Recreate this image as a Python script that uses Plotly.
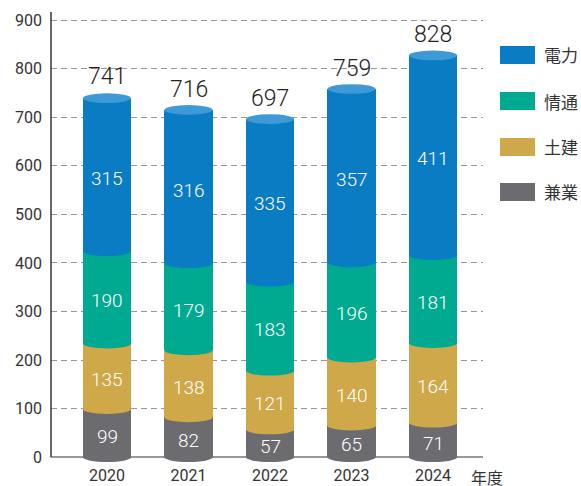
import plotly.graph_objects as go

years = ["2020", "2021", "2022", "2023", "2024"]
series_names = ["兼業", "土建", "情通", "電力"]
kengyo = [99, 82, 57, 65, 71]
doken = [135, 138, 121, 140, 164]
jotsu = [190, 179, 183, 196, 181]
denryoku = [315, 316, 335, 357, 411]
totals = [741, 716, 697, 759, 828]
y_ticks = [0, 100, 200, 300, 400, 500, 600, 700, 800, 900]

colors = {"兼業": "#6b6b70", "土建": "#cfa84a", "情通": "#00aa90", "電力": "#0a7cc4"}
cap_color = "#3d9ad6"
series = [kengyo, doken, jotsu, denryoku]

W, H = 581, 486
ml, mr, mt, mb = 51, 98, 12, 22
ymin, ymax = -14, 916.5
bw = 0.59
e = 10  # ellipse half-height in data units

fig = go.Figure()
xs = list(range(len(years)))
for name, vals in zip(series_names, series):
    fig.add_trace(go.Bar(x=xs, y=vals, name=name, width=bw,
                         marker=dict(color=colors[name], line=dict(width=0)),
                         showlegend=False, hoverinfo="skip"))

shapes = []
annotations = []
font_num = "Roboto, sans-serif"
for i in xs:
    base = 0
    for name, vals in zip(series_names, series):
        v = vals[i]
        shapes.append(dict(type="circle", xref="x", yref="y", x0=i - bw / 2, x1=i + bw / 2,
                           y0=base - e, y1=base + e, fillcolor=colors[name],
                           line=dict(width=0), layer="above"))
        annotations.append(dict(x=i, y=base + v / 2 - e * 0.7, xref="x", yref="y", text=str(v),
                                showarrow=False,
                                font=dict(color="white", size=19, family=font_num, weight=300)))
        base += v
    shapes.append(dict(type="circle", xref="x", yref="y", x0=i - bw / 2, x1=i + bw / 2,
                       y0=base - e, y1=base + e, fillcolor=cap_color,
                       line=dict(width=0), layer="above"))
    annotations.append(dict(x=i, y=totals[i] + e, xref="x", yref="y", text=str(totals[i]),
                            showarrow=False, yanchor="bottom", yshift=0,
                            font=dict(color="#222", size=23, family=font_num, weight=300)))

shapes.append(dict(type="line", xref="paper", yref="y", x0=0, x1=0, y0=0, y1=ymax,
                   line=dict(color="#333", width=1.5), layer="above"))

pw = W - ml - mr
ph = H - mt - mb
def px2paper(px, py):
    return (px - ml) / pw, (H - mb - py) / ph

leg_rows = [("電力", 55), ("情通", 101), ("土建", 147), ("兼業", 192)]
for name, cy in leg_rows:
    x0, y0 = px2paper(500, cy + 9)
    x1, y1 = px2paper(535, cy - 9)
    shapes.append(dict(type="rect", xref="paper", yref="paper", x0=x0, x1=x1, y0=y0, y1=y1,
                       fillcolor=colors[name], line=dict(width=0)))
    tx, ty = px2paper(542, cy)
    annotations.append(dict(x=tx, y=ty, xref="paper", yref="paper", text=name, showarrow=False,
                            xanchor="left", yanchor="middle",
                            font=dict(size=17, color="#333", family="'Noto Sans CJK JP', sans-serif")))

tx, ty = px2paper(469, 477)
annotations.append(dict(x=tx, y=ty, xref="paper", yref="paper", text="年度", showarrow=False,
                        xanchor="left", yanchor="middle",
                        font=dict(size=16, color="#333", family="'Noto Sans CJK JP', sans-serif")))

fig.update_layout(
    width=W, height=H, margin=dict(l=ml, r=mr, t=mt, b=mb, autoexpand=False),
    barmode="stack", bargap=0, plot_bgcolor="white", paper_bgcolor="white",
    shapes=shapes, annotations=annotations,
    xaxis=dict(range=[-0.687, 4.613], tickvals=xs, ticktext=years, showgrid=False,
               zeroline=False, showline=False, ticks="", automargin=False,
               tickfont=dict(size=16, color="#333", family=font_num)),
    yaxis=dict(range=[ymin, ymax], tickvals=y_ticks, showgrid=True, gridcolor="#999",
               griddash="6px,4px", gridwidth=1.3, zeroline=True, zerolinecolor="#999",
               zerolinewidth=1.5, showline=False, ticks="", ticklabelstandoff=8,
               automargin=False,
               tickfont=dict(size=16, color="#333", family=font_num)),
)
fig.write_html("out.html", config={"displayModeBar": False},
               post_script="document.body.style.margin='0';document.body.style.overflow='hidden';")
